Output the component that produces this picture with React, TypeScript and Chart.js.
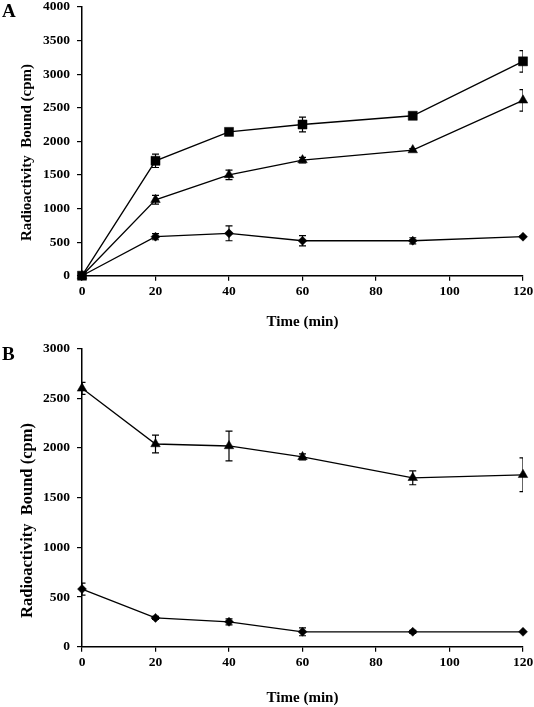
import React, { useEffect, useRef } from 'react';
import { Chart, registerables } from 'chart.js';

Chart.register(...registerables);

// ---- data ----
const times = [0, 20, 40, 60, 90, 120];
const xTicksStep = 20;

// Panel A
const aSquare = [0, 1710, 2140, 2250, 2380, 3190];
const aSquareErr = [0, 100, 30, 110, 30, 160];
const aTriangle = [0, 1130, 1500, 1720, 1870, 2610];
const aTriangleErr = [0, 65, 70, 40, 20, 160];
const aDiamond = [0, 580, 630, 520, 520, 580];
const aDiamondErr = [0, 45, 110, 75, 45, 15];
const aYMax = 4000;

// Panel B
const bTriangle = [2600, 2040, 2020, 1910, 1700, 1730];
const bTriangleErr = [60, 90, 150, 30, 70, 170];
const bDiamond = [580, 290, 250, 150, 150, 150];
const bDiamondErr = [60, 15, 30, 40, 15, 0];
const bYMax = 3000;
const yStep = 500;

const yTitle = 'Radioactivity  Bound (cpm)';
const xTitle = 'Time (min)';

const FONT = '"Liberation Serif", "Times New Roman", serif';

const toPoints = (ys: number[]) => ys.map((y, i) => ({ x: times[i], y }));

const errorBarPlugin = {
  id: 'errorBars',
  beforeDatasetsDraw(chart: any) {
    const { ctx, chartArea, scales } = chart;
    ctx.save();
    ctx.beginPath();
    ctx.rect(chartArea.left, 0, chartArea.right - chartArea.left, chart.height);
    ctx.clip();
    ctx.strokeStyle = '#000';
    ctx.lineWidth = 1.2;
    chart.data.datasets.forEach((ds: any) => {
      const errs: number[] | undefined = ds.errors;
      if (!errs) return;
      ds.data.forEach((p: any, j: number) => {
        const e = errs[j];
        if (!e) return;
        const x = scales.x.getPixelForValue(p.x);
        const y1 = scales.y.getPixelForValue(p.y + e);
        const y2 = scales.y.getPixelForValue(p.y - e);
        ctx.beginPath();
        ctx.moveTo(x, y1);
        ctx.lineTo(x, y2);
        ctx.moveTo(x - 3.5, y1);
        ctx.lineTo(x + 3.5, y1);
        ctx.moveTo(x - 3.5, y2);
        ctx.lineTo(x + 3.5, y2);
        ctx.stroke();
      });
    });
    ctx.restore();
  },
};

function makeLabelPlugin(letter: string, letterY: number, titleX: number, titleY: number, titleSize: number) {
  return {
    id: 'panelLabels',
    afterDraw(chart: any) {
      const ctx = chart.ctx;
      ctx.save();
      ctx.fillStyle = '#000';
      ctx.font = `bold 19px ${FONT}`;
      ctx.textAlign = 'left';
      ctx.textBaseline = 'middle';
      ctx.fillText(letter, 2, letterY);
      ctx.translate(titleX, titleY);
      ctx.rotate(-Math.PI / 2);
      ctx.font = `bold ${titleSize}px ${FONT}`;
      ctx.textAlign = 'center';
      ctx.fillText(yTitle, 0, 0);
      ctx.restore();
    },
  };
}

function lineDs(data: number[], errs: number[], style: string, radius: number) {
  return {
    data: toPoints(data),
    errors: errs,
    borderColor: '#000',
    backgroundColor: '#000',
    borderWidth: 1.3,
    pointStyle: style,
    pointRadius: radius,
    pointBackgroundColor: '#000',
    pointBorderColor: '#000',
    pointBorderWidth: 0.5,
    fill: false,
    tension: 0,
    clip: false,
  };
}

const plainTick = (v: any) => String(v);

function makeConfig(datasets: any[], yMax: number, padTop: number, padBottom: number, xHeight: number, labels: any) {
  const tickFont = { family: FONT, size: 13.5, weight: 'bold' as const };
  const grid = { drawOnChartArea: false, drawTicks: true, tickLength: 5, color: '#000', lineWidth: 1.2 };
  const border = { color: '#000', width: 1.5 };
  return {
    type: 'line' as const,
    data: { datasets },
    options: {
      animation: false,
      responsive: false,
      maintainAspectRatio: false,
      layout: { padding: { top: padTop, left: 0, right: 11, bottom: padBottom } },
      plugins: { legend: { display: false }, tooltip: { enabled: false } },
      scales: {
        x: {
          type: 'linear',
          min: 0,
          max: 120,
          ticks: { stepSize: xTicksStep, font: tickFont, color: '#000', padding: 3, callback: plainTick },
          grid,
          border,
          title: {
            display: true,
            text: xTitle,
            color: '#000',
            font: { family: FONT, size: 15, weight: 'bold' },
            padding: { top: 0, bottom: 0 },
          },
          afterFit(s: any) {
            s.height = xHeight;
            s.paddingLeft = 0;
            s.paddingRight = 0;
          },
        },
        y: {
          type: 'linear',
          min: 0,
          max: yMax,
          ticks: { stepSize: yStep, font: tickFont, color: '#000', padding: 7, callback: plainTick },
          grid,
          border,
          afterFit(s: any) {
            s.width = 82;
            s.paddingTop = 0;
            s.paddingBottom = 0;
          },
        },
      },
    },
    plugins: [errorBarPlugin, labels],
  };
}

export default function App() {
  const refA = useRef<HTMLCanvasElement>(null);
  const refB = useRef<HTMLCanvasElement>(null);

  useEffect(() => {
    const chartA = new Chart(
      refA.current as HTMLCanvasElement,
      makeConfig(
        [
          lineDs(aSquare, aSquareErr, 'rect', 6.4),
          lineDs(aTriangle, aTriangleErr, 'triangle', 5.5),
          lineDs(aDiamond, aDiamondErr, 'rectRot', 4.5),
        ],
        aYMax,
        5,
        9,
        55.3,
        makeLabelPlugin('A', 12, 27, 152.5, 15)
      ) as any
    );
    const chartB = new Chart(
      refB.current as HTMLCanvasElement,
      makeConfig(
        [
          lineDs(bTriangle, bTriangleErr, 'triangle', 5.5),
          lineDs(bDiamond, bDiamondErr, 'rectRot', 4.5),
        ],
        bYMax,
        8.6,
        0,
        60.3,
        makeLabelPlugin('B', 15, 28, 180.5, 16.5)
      ) as any
    );
    return () => {
      chartA.destroy();
      chartB.destroy();
    };
  }, []);

  return (
    <div style={{ position: 'absolute', left: 0, top: 0, width: 534, height: 707, background: '#fff' }}>
      <canvas ref={refA} width={534} height={340} style={{ position: 'absolute', left: 0, top: 0 }} />
      <canvas ref={refB} width={534} height={367} style={{ position: 'absolute', left: 0, top: 340 }} />
    </div>
  );
}
